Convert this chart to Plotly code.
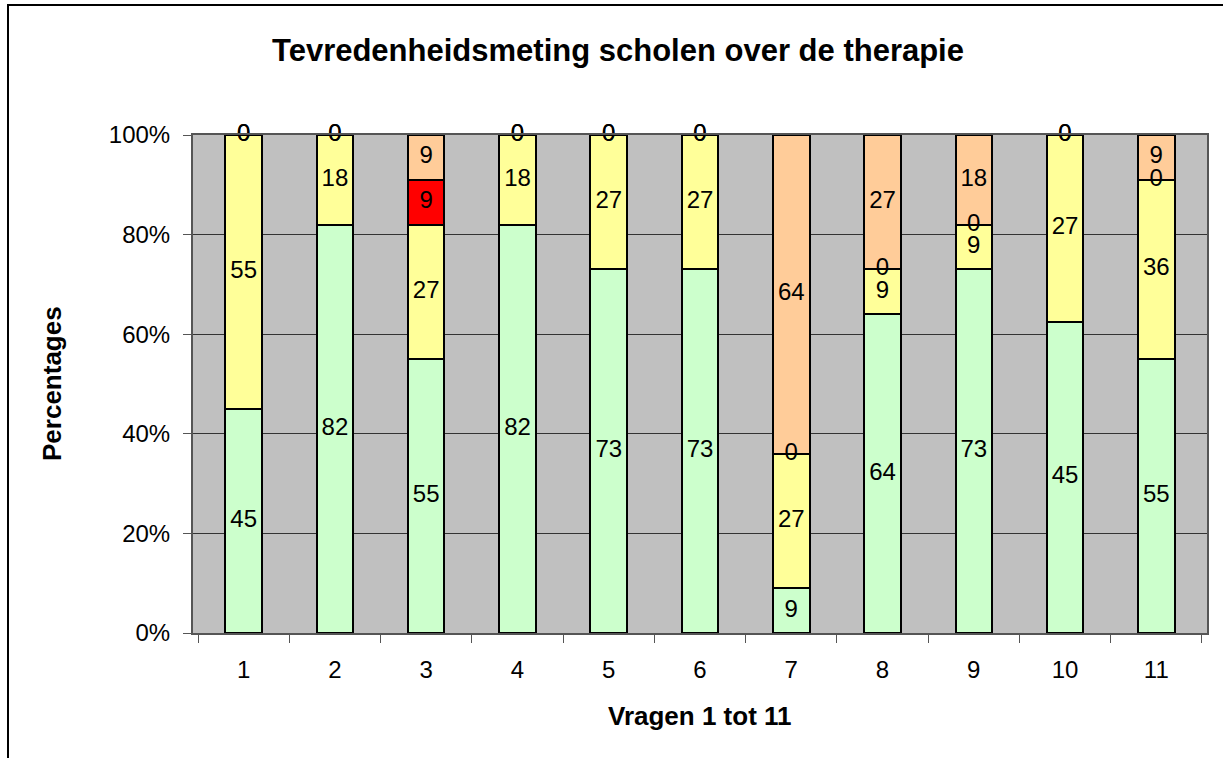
import plotly.graph_objects as go

# Vragen 1 tot 11, antwoorden per categorie
vragen = ['1', '2', '3', '4', '5', '6', '7', '8', '9', '10', '11']
groen = [45, 82, 55, 82, 73, 73, 9, 64, 73, 45, 55]
geel = [55, 18, 27, 18, 27, 27, 27, 9, 9, 27, 36]
rood = [0, 0, 9, 0, 0, 0, 0, 0, 0, 0, 0]
oranje = [0, 0, 9, 0, 0, 0, 64, 27, 18, 0, 9]

series = [('groen', groen, '#ccffcc'), ('geel', geel, '#ffff99'),
          ('rood', rood, '#ff0000'), ('oranje', oranje, '#ffcc99')]

totals = [sum(v) for v in zip(groen, geel, rood, oranje)]

fig = go.Figure()
base = [0.0] * len(vragen)
for name, vals, kleur in series:
    pct = [v / t * 100 for v, t in zip(vals, totals)]
    fig.add_trace(go.Bar(x=vragen, y=pct, name=name, marker_color=kleur,
                         marker_line=dict(color='black', width=2),
                         hoverinfo='skip'))
    # labels in het midden van elk segment (ook de nullen)
    mid = [b + p / 2 for b, p in zip(base, pct)]
    fig.add_trace(go.Scatter(x=vragen, y=mid, mode='text', text=[str(v) for v in vals],
                             textfont=dict(size=24, color='black', family='Liberation Sans, Arial'),
                             cliponaxis=False, hoverinfo='skip', showlegend=False))
    base = [b + p for b, p in zip(base, pct)]

W, H = 1223, 758
L, R, T, B = 193, 16, 135, 125
pw, ph = W - L - R, H - T - B

fig.update_layout(
    width=W, height=H,
    margin=dict(l=L, r=R, t=T, b=B),
    barmode='stack', bargap=0.6,
    showlegend=False,
    paper_bgcolor='white', plot_bgcolor='#c0c0c0',
    font=dict(family='Liberation Sans, Arial', color='black', size=24),
    title=dict(text='<b>Tevredenheidsmeting scholen over de therapie</b>',
               x=618 / W, xref='container', xanchor='center',
               y=1 - 50 / H, yref='container', yanchor='middle',
               font=dict(size=31, color='black')),
    xaxis=dict(type='category', tickson='boundaries', ticks='outside', ticklen=8,
               tickcolor='#555555', tickwidth=1, showline=True, linecolor='#555555',
               linewidth=2, mirror=True, showgrid=False, ticklabelstandoff=14,
               tickfont=dict(size=24)),
    yaxis=dict(range=[0, 100], tickvals=[0, 20, 40, 60, 80, 100],
               ticktext=['0%', '20%', '40%', '60%', '80%', '100%'],
               ticks='outside', ticklen=8, tickcolor='#555555', tickwidth=1,
               showline=True, linecolor='#555555', linewidth=2, mirror=True,
               showgrid=True, gridcolor='#333333', gridwidth=1, zeroline=False,
               ticklabelstandoff=8, tickfont=dict(size=24)),
    annotations=[
        dict(text='<b>Percentages</b>', xref='paper', yref='paper',
             x=(52 - L) / pw, y=0.5, textangle=-90, showarrow=False,
             font=dict(size=26), xanchor='center', yanchor='middle'),
        dict(text='<b>Vragen 1 tot 11</b>', xref='paper', yref='paper',
             x=0.5, y=(H - B - 716) / ph, showarrow=False,
             font=dict(size=26), xanchor='center', yanchor='middle'),
    ],
    shapes=[dict(type='rect', xref='paper', yref='paper',
                 x0=(8 - L) / pw, x1=1.2, y0=-0.4, y1=(H - B - 5) / ph,
                 line=dict(color='black', width=2), fillcolor='rgba(0,0,0,0)',
                 layer='below')],
)

fig.write_html("out.html", config={'displayModeBar': False},
               post_script="document.body.style.margin='0';")
